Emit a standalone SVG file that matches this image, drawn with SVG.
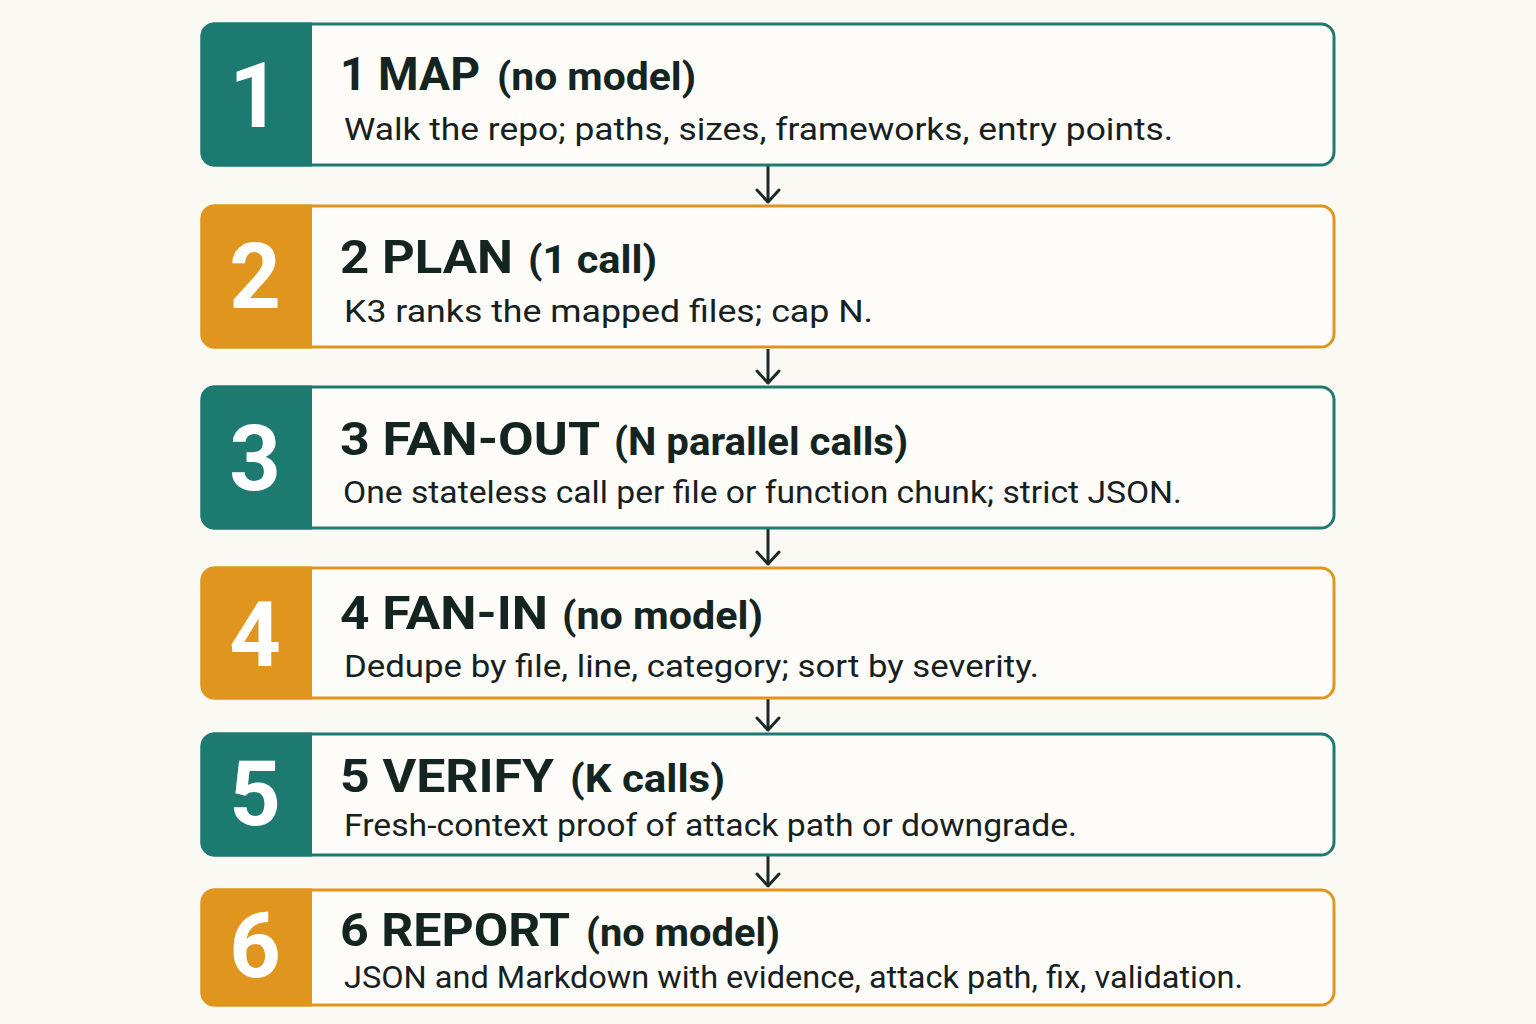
<svg xmlns="http://www.w3.org/2000/svg" width="1536" height="1024" viewBox="0 0 1536 1024">
<defs>
<style>
.bg{fill:#fbf9f4}
.box{fill:#fdfcf8;stroke-width:3}
.teal .box{stroke:#1d7a70}
.orange .box{stroke:#e0961e}
.teal .tab{fill:#1d7a70}
.orange .tab{fill:#e0961e}
.num{font-family:Roboto,"Liberation Sans",sans-serif;font-weight:700;font-size:90px;fill:#ffffff;text-anchor:middle}
.title{font-family:Roboto,"Liberation Sans",sans-serif;font-weight:700;font-size:46px;fill:#142420}
.paren{font-family:Roboto,"Liberation Sans",sans-serif;font-weight:700;font-size:39px;fill:#142420}
.sub{font-family:Roboto,"Liberation Sans",sans-serif;font-weight:400;font-size:32px;fill:#16211f}
.conn{stroke:#1a2a28;stroke-width:3;fill:none}
</style>
<marker id="arr" markerUnits="userSpaceOnUse" markerWidth="30" markerHeight="30" viewBox="-15 -15 30 30" refX="0" refY="0" orient="auto">
<path d="M-12,-11 L0,0 L-12,11" fill="none" stroke="#1a2a28" stroke-width="3" stroke-linecap="round" stroke-linejoin="round"/>
</marker>
</defs>
<rect class="bg" x="0" y="0" width="1536" height="1024"/>

<g id="connectors">
<line class="conn" x1="768" y1="166" x2="768" y2="202" marker-end="url(#arr)"/>
<line class="conn" x1="768" y1="349" x2="768" y2="383" marker-end="url(#arr)"/>
<line class="conn" x1="768" y1="529" x2="768" y2="564" marker-end="url(#arr)"/>
<line class="conn" x1="768" y1="699" x2="768" y2="730" marker-end="url(#arr)"/>
<line class="conn" x1="768" y1="856" x2="768" y2="886" marker-end="url(#arr)"/>
</g>

<g id="step1" class="teal">
<rect class="box" x="202" y="24" width="1132" height="141" rx="13"/>
<path class="tab" d="M214,22.5 H312 V166.5 H214 A13.5,13.5 0 0 1 200.5,153 V36 A13.5,13.5 0 0 1 214,22.5 Z"/>
<text class="num" x="255" y="127">1</text>
<text class="title" x="340" y="90" textLength="140" lengthAdjust="spacingAndGlyphs">1 MAP</text>
<text class="paren" x="497" y="90" textLength="199" lengthAdjust="spacingAndGlyphs">(no model)</text>
<text class="sub" x="344" y="140" textLength="829" lengthAdjust="spacingAndGlyphs">Walk the repo; paths, sizes, frameworks, entry points.</text>
</g>

<g id="step2" class="orange">
<rect class="box" x="202" y="206" width="1132" height="141" rx="13"/>
<path class="tab" d="M214,204.5 H312 V348.5 H214 A13.5,13.5 0 0 1 200.5,335 V218 A13.5,13.5 0 0 1 214,204.5 Z"/>
<text class="num" x="255" y="308">2</text>
<text class="title" x="340" y="273" textLength="173" lengthAdjust="spacingAndGlyphs">2 PLAN</text>
<text class="paren" x="528" y="273" textLength="129" lengthAdjust="spacingAndGlyphs">(1 call)</text>
<text class="sub" x="344" y="322" textLength="529" lengthAdjust="spacingAndGlyphs">K3 ranks the mapped files; cap N.</text>
</g>

<g id="step3" class="teal">
<rect class="box" x="202" y="387" width="1132" height="141" rx="13"/>
<path class="tab" d="M214,385.5 H312 V529.5 H214 A13.5,13.5 0 0 1 200.5,516 V399 A13.5,13.5 0 0 1 214,385.5 Z"/>
<text class="num" x="255" y="490">3</text>
<text class="title" x="340" y="455" textLength="260" lengthAdjust="spacingAndGlyphs">3 FAN-OUT</text>
<text class="paren" x="614" y="455" textLength="294" lengthAdjust="spacingAndGlyphs">(N parallel calls)</text>
<text class="sub" x="343" y="503" textLength="839" lengthAdjust="spacingAndGlyphs">One stateless call per file or function chunk; strict JSON.</text>
</g>

<g id="step4" class="orange">
<rect class="box" x="202" y="568" width="1132" height="130" rx="13"/>
<path class="tab" d="M214,566.5 H312 V699.5 H214 A13.5,13.5 0 0 1 200.5,686 V580 A13.5,13.5 0 0 1 214,566.5 Z"/>
<text class="num" x="255" y="666">4</text>
<text class="title" x="340" y="629" textLength="208" lengthAdjust="spacingAndGlyphs">4 FAN-IN</text>
<text class="paren" x="562" y="629" textLength="201" lengthAdjust="spacingAndGlyphs">(no model)</text>
<text class="sub" x="344" y="677" textLength="695" lengthAdjust="spacingAndGlyphs">Dedupe by file, line, category; sort by severity.</text>
</g>

<g id="step5" class="teal">
<rect class="box" x="202" y="734" width="1132" height="121" rx="13"/>
<path class="tab" d="M214,732.5 H312 V856.5 H214 A13.5,13.5 0 0 1 200.5,843 V746 A13.5,13.5 0 0 1 214,732.5 Z"/>
<text class="num" x="255" y="825">5</text>
<text class="title" x="340" y="792" textLength="214" lengthAdjust="spacingAndGlyphs">5 VERIFY</text>
<text class="paren" x="570" y="792" textLength="155" lengthAdjust="spacingAndGlyphs">(K calls)</text>
<text class="sub" x="344" y="836" textLength="733" lengthAdjust="spacingAndGlyphs">Fresh-context proof of attack path or downgrade.</text>
</g>

<g id="step6" class="orange">
<rect class="box" x="202" y="890" width="1132" height="115" rx="13"/>
<path class="tab" d="M214,888.5 H312 V1006.5 H214 A13.5,13.5 0 0 1 200.5,993 V902 A13.5,13.5 0 0 1 214,888.5 Z"/>
<text class="num" x="255" y="977">6</text>
<text class="title" x="340" y="946" textLength="230" lengthAdjust="spacingAndGlyphs">6 REPORT</text>
<text class="paren" x="586" y="946" textLength="194" lengthAdjust="spacingAndGlyphs">(no model)</text>
<text class="sub" x="344" y="988" textLength="899" lengthAdjust="spacingAndGlyphs">JSON and Markdown with evidence, attack path, fix, validation.</text>
</g>
</svg>
